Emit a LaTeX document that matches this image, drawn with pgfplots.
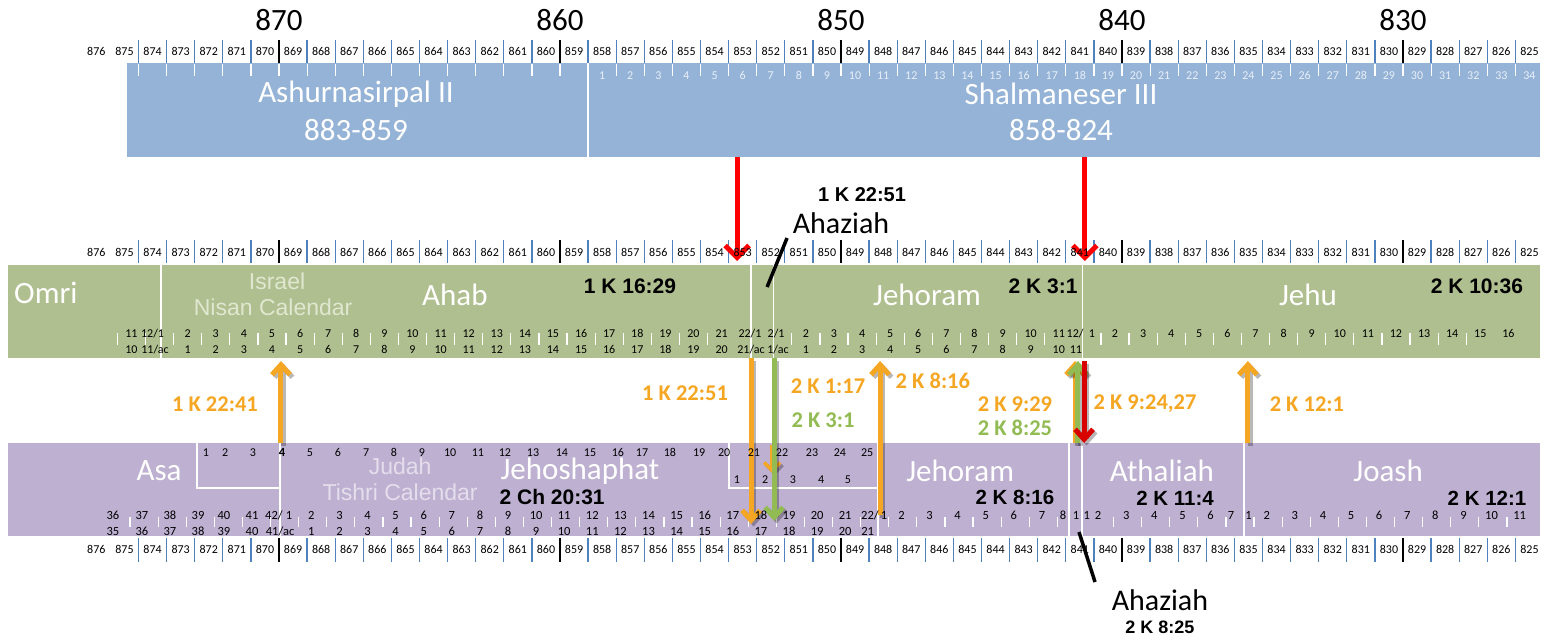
\documentclass[border=0pt]{standalone}
\usepackage{pgfplots}
\usepackage{pgfplotstable}
\pgfplotsset{compat=1.18}
\usepackage{fontspec}
\setmainfont{Carlito}
\newfontfamily\arial{Liberation Sans}
\usetikzlibrary{arrows.meta}
\newcommand\fs[1]{\fontsize{#1pt}{#1pt}\selectfont}
\definecolor{bandblue}{RGB}{149,179,215}
\definecolor{bandgreen}{RGB}{176,191,143}
\definecolor{bandpurple}{RGB}{190,176,209}
\definecolor{sepblue}{RGB}{79,129,189}
\definecolor{arrorange}{RGB}{245,166,35}
\definecolor{arrgreen}{RGB}{146,187,83}
\definecolor{lgtext}{RGB}{224,231,208}
\definecolor{lptext}{RGB}{228,222,236}
\definecolor{lbtext}{RGB}{232,239,248}
\pgfplotsset{
  lbl/.style 2 args={only marks, mark=none, nodes near coords, point meta=explicit symbolic,
    nodes near coords align={anchor=base},
    every node near coord/.append style={font=#1, text=#2, inner sep=0pt, yshift=-4pt}},
  shd/.style={preaction={draw=black, draw opacity=0.28, transform canvas={shift={(2.5pt,-2.5pt)}}}},
}
\pgfplotstableread{
x lab
876 876
875 875
874 874
873 873
872 872
871 871
870 870
869 869
868 868
867 867
866 866
865 865
864 864
863 863
862 862
861 861
860 860
859 859
858 858
857 857
856 856
855 855
854 854
853 853
852 852
851 851
850 850
849 849
848 848
847 847
846 846
845 845
844 844
843 843
842 842
841 841
840 840
839 839
838 838
837 837
836 836
835 835
834 834
833 833
832 832
831 831
830 830
829 829
828 828
827 827
826 826
825 825
}\yeartab
\begin{document}
\begin{tikzpicture}[every node/.append style={inner sep=0pt}]
\begin{axis}[
  width=1548pt, height=642pt, scale only axis,
  xmin=824.34, xmax=879.43, x dir=reverse,
  ymin=0, ymax=642, y dir=reverse,
  hide axis, clip=false,
]
% ---------- bands ----------
\addplot[fill=bandblue, draw=none] coordinates {(874.91,63) (824.625,63) (824.625,157) (874.91,157)};
\addplot[fill=bandgreen, draw=none] coordinates {(879.14,265) (824.625,265) (824.625,358) (879.14,358)};
\addplot[fill=bandpurple, draw=none] coordinates {(879.14,443) (824.625,443) (824.625,536) (879.14,536)};

% dividers
\addplot[white, line width=2pt] coordinates {(858.5,63) (858.5,157)};
\addplot[white, line width=1.5pt] coordinates {(873.7,265) (873.7,358)};
\addplot[white, line width=1.5pt] coordinates {(852.7,265) (852.7,358)};
\addplot[white, line width=1.5pt] coordinates {(851.9,265) (851.9,358)};
\addplot[white, line width=1.5pt] coordinates {(840.9,265) (840.9,358)};
\addplot[white, line width=1.5pt] coordinates {(869.46,443) (869.46,536)};
\addplot[white, line width=1.5pt] coordinates {(872.42,443) (872.42,488) (869.46,488)};
\addplot[white, line width=1.5pt] coordinates {(853.49,443) (853.49,488) (848.18,488)};
\addplot[white, line width=1.5pt] coordinates {(848.18,443) (848.18,536)};
\addplot[white, line width=1.5pt] coordinates {(841.39,443) (841.39,536)};
\addplot[white, line width=1.5pt] coordinates {(840.92,443) (840.92,536)};
\addplot[white, line width=1.5pt] coordinates {(835.16,443) (835.16,536)};

% ---------- year rows ----------
\pgfplotsinvokeforeach{825,...,874}{
  \draw[sepblue, line width=1.3pt] (axis cs:#1.5,40) -- (axis cs:#1.5,63);
  \draw[sepblue, line width=1.3pt] (axis cs:#1.5,240) -- (axis cs:#1.5,263);
  \draw[sepblue, line width=1.3pt] (axis cs:#1.5,538) -- (axis cs:#1.5,562);
}
\pgfplotsinvokeforeach{829,839,849,859,869}{
  \draw[black, line width=1.6pt] (axis cs:#1.5,40) -- (axis cs:#1.5,63);
  \draw[black, line width=1.6pt] (axis cs:#1.5,240) -- (axis cs:#1.5,263);
  \draw[black, line width=1.6pt] (axis cs:#1.5,538) -- (axis cs:#1.5,562);
}
\addplot[lbl={\fs{12}}{black}] table[x=x, y expr=51, meta=lab] {\yeartab};
\addplot[lbl={\fs{12}}{black}] table[x=x, y expr=252, meta=lab] {\yeartab};
\addplot[lbl={\fs{12}}{black}] table[x=x, y expr=549, meta=lab] {\yeartab};

% big decade labels
\node[font=\fs{31}] at (axis cs:869.5,20) {870};
\node[font=\fs{31}] at (axis cs:859.5,20) {860};
\node[font=\fs{31}] at (axis cs:849.5,20) {850};
\node[font=\fs{31}] at (axis cs:839.5,20) {840};
\node[font=\fs{31}] at (axis cs:829.5,20) {830};

% ---------- Assyria band ----------
\pgfplotsinvokeforeach{825,...,857,859,860,...,874}{
  \draw[white, line width=1.2pt] (axis cs:#1.5,64) -- (axis cs:#1.5,76);
}
\addplot[lbl={\fs{12}}{lbtext}] coordinates {
(858,75)[1] (857,75)[2] (856,75)[3] (855,75)[4] (854,75)[5] (853,75)[6] (852,75)[7] (851,75)[8] (850,75)[9] (849,75)[10]
(848,75)[11] (847,75)[12] (846,75)[13] (845,75)[14] (844,75)[15] (843,75)[16] (842,75)[17] (841,75)[18] (840,75)[19] (839,75)[20]
(838,75)[21] (837,75)[22] (836,75)[23] (835,75)[24] (834,75)[25] (833,75)[26] (832,75)[27] (831,75)[28] (830,75)[29] (829,75)[30]
(828,75)[31] (827,75)[32] (826,75)[33] (825,75)[34]};
\node[font=\fs{31}, text=white] at (axis cs:866.76,94) {Ashurnasirpal II};
\node[font=\fs{31}, text=white] at (axis cs:866.76,130) {883-859};
\node[font=\fs{31}, text=white] at (axis cs:841.67,94) {Shalmaneser III};
\node[font=\fs{31}, text=white] at (axis cs:841.67,130) {858-824};

% ---------- Israel band ----------
\pgfplotsinvokeforeach{854,...,875,842,843,...,851,827,828,...,840}{
  \draw[white, line width=1.2pt] (axis cs:#1.25,333) -- (axis cs:#1.25,345);
}
\addplot[lbl={\fs{12}}{black}] coordinates {
(874.75,333)[11] (874.0,333)[12/1] (872.75,333)[2] (871.75,333)[3] (870.75,333)[4] (869.75,333)[5] (868.75,333)[6]
(867.75,333)[7] (866.75,333)[8] (865.75,333)[9] (864.75,333)[10] (863.75,333)[11] (862.75,333)[12] (861.75,333)[13]
(860.75,333)[14] (859.75,333)[15] (858.75,333)[16] (857.75,333)[17] (856.75,333)[18] (855.75,333)[19] (854.75,333)[20]
(853.75,333)[21] (852.74,333)[22/1] (851.81,333)[2/1] (850.75,333)[2] (849.75,333)[3] (848.75,333)[4] (847.75,333)[5]
(846.75,333)[6] (845.75,333)[7] (844.75,333)[8] (843.75,333)[9] (842.75,333)[10] (841.75,333)[11] (841.17,333)[12/]
(840.57,333)[1] (839.75,333)[2] (838.75,333)[3] (837.75,333)[4] (836.75,333)[5] (835.75,333)[6] (834.75,333)[7]
(833.75,333)[8] (832.75,333)[9] (831.75,333)[10] (830.75,333)[11] (829.75,333)[12] (828.75,333)[13] (827.75,333)[14]
(826.75,333)[15] (825.75,333)[16]};
\addplot[lbl={\fs{12}}{black}] coordinates {
(874.75,349)[10] (873.91,349)[11/ac] (872.75,349)[1] (871.75,349)[2] (870.75,349)[3] (869.75,349)[4] (868.75,349)[5]
(867.75,349)[6] (866.75,349)[7] (865.75,349)[8] (864.75,349)[9] (863.75,349)[10] (862.75,349)[11] (861.75,349)[12]
(860.75,349)[13] (859.75,349)[14] (858.75,349)[15] (857.75,349)[16] (856.75,349)[17] (855.75,349)[18] (854.75,349)[19]
(853.75,349)[20] (852.70,349)[21/ac] (851.74,349)[1/ac] (850.75,349)[1] (849.75,349)[2] (848.75,349)[3] (847.75,349)[4]
(846.75,349)[5] (845.75,349)[6] (844.75,349)[7] (843.75,349)[8] (842.75,349)[9] (841.75,349)[10] (841.14,349)[11]};
\node[font=\fs{31}, text=white, anchor=west] at (axis cs:878.93,293) {Omri};
\node[font=\arial\fs{23}, text=lgtext] at (axis cs:869.57,281) {Israel};
\node[font=\arial\fs{23}, text=lgtext] at (axis cs:869.71,307) {Nisan Calendar};
\node[font=\fs{31}, text=white] at (axis cs:863.24,295) {Ahab};
\node[font=\arial\bfseries\fs{21}] at (axis cs:857.01,286) {1 K 16:29};
\node[font=\fs{31}, text=white] at (axis cs:846.44,295) {Jehoram};
\node[font=\arial\bfseries\fs{21}] at (axis cs:842.31,286) {2 K 3:1};
\node[font=\fs{31}, text=white] at (axis cs:832.88,295) {Jehu};
\node[font=\arial\bfseries\fs{21}] at (axis cs:826.87,286) {2 K 10:36};

% ---------- Judah band ----------
\pgfplotsinvokeforeach{825,...,839,841,842,...,874}{
  \draw[white, line width=1.2pt] (axis cs:#1.8,517) -- (axis cs:#1.8,527);
}
\addplot[lbl={\fs{12}}{black}] coordinates {
(872.10,452)[1] (871.42,452)[2] (870.43,452)[3] (868.40,452)[5] (867.40,452)[6] (866.40,452)[7] (865.41,452)[8]
(864.41,452)[9] (863.41,452)[10] (862.42,452)[11] (861.46,452)[12] (860.46,452)[13] (859.43,452)[14] (858.43,452)[15]
(857.44,452)[16] (856.58,452)[17] (855.59,452)[18] (854.55,452)[19] (853.66,452)[20] (852.60,452)[21] (851.60,452)[22]
(850.53,452)[23] (849.54,452)[24] (848.57,452)[25]};
\addplot[lbl={\bfseries\fs{12.5}}{black}] coordinates {(869.39,452)[4]};
\addplot[lbl={\fs{12}}{black}] coordinates {
(853.20,479)[1] (852.20,479)[2] (851.21,479)[3] (850.21,479)[4] (849.25,479)[5]};
\addplot[lbl={\fs{12.5}}{black}] coordinates {
(875.41,515)[36] (874.38,515)[37] (873.38,515)[38] (872.38,515)[39] (871.46,515)[40] (870.46,515)[41] (869.68,515)[42/]
(869.14,515)[1] (868.35,515)[2] (867.35,515)[3] (866.35,515)[4] (865.35,515)[5] (864.35,515)[6] (863.35,515)[7]
(862.35,515)[8] (861.35,515)[9] (860.35,515)[10] (859.35,515)[11] (858.35,515)[12] (857.35,515)[13] (856.35,515)[14]
(855.35,515)[15] (854.35,515)[16] (853.35,515)[17] (852.35,515)[18] (851.35,515)[19] (850.35,515)[20] (849.35,515)[21]
(848.47,515)[22/] (847.97,515)[1] (847.35,515)[2] (846.35,515)[3] (845.35,515)[4] (844.35,515)[5] (843.35,515)[6]
(842.35,515)[7] (841.60,515)[8] (841.14,515)[1] (840.75,515)[1] (840.35,515)[2] (839.35,515)[3] (838.35,515)[4]
(837.35,515)[5] (836.35,515)[6] (835.62,515)[7] (835.00,515)[1] (834.35,515)[2] (833.35,515)[3] (832.35,515)[4]
(831.35,515)[5] (830.35,515)[6] (829.35,515)[7] (828.35,515)[8] (827.35,515)[9] (826.35,515)[10] (825.35,515)[11]};
\addplot[lbl={\fs{12.5}}{black}] coordinates {
(875.41,531)[35] (874.38,531)[36] (873.38,531)[37] (872.38,531)[38] (871.46,531)[39] (870.46,531)[40] (869.46,531)[41/ac]
(868.35,531)[1] (867.35,531)[2] (866.35,531)[3] (865.35,531)[4] (864.35,531)[5] (863.35,531)[6] (862.35,531)[7]
(861.35,531)[8] (860.35,531)[9] (859.35,531)[10] (858.35,531)[11] (857.35,531)[12] (856.35,531)[13] (855.35,531)[14]
(854.35,531)[15] (853.35,531)[16] (852.35,531)[17] (851.35,531)[18] (850.35,531)[19] (849.35,531)[20] (848.55,531)[21]};
\node[font=\fs{31}, text=white] at (axis cs:873.77,471) {Asa};
\node[font=\arial\fs{23}, text=lptext] at (axis cs:865.19,466) {Judah};
\node[font=\arial\fs{23}, text=lptext] at (axis cs:865.19,492) {Tishri Calendar};
\node[font=\fs{31}, text=white] at (axis cs:858.79,471) {Jehoshaphat};
\node[font=\arial\bfseries\fs{21}] at (axis cs:859.78,497) {2 Ch 20:31};
\node[font=\fs{31}, text=white] at (axis cs:845.26,471) {Jehoram};
\node[font=\arial\bfseries\fs{20.5}] at (axis cs:843.31,497) {2 K 8:16};
\node[font=\fs{31}, text=white] at (axis cs:838.08,471) {Athaliah};
\node[font=\arial\bfseries\fs{20.5}] at (axis cs:837.61,498) {2 K 11:4};
\node[font=\fs{31}, text=white] at (axis cs:830.03,471) {Joash};
\node[font=\arial\bfseries\fs{20.5}] at (axis cs:826.51,498) {2 K 12:1};

% ---------- arrows ----------
\addplot[red, line width=5pt, -{Straight Barb[length=12pt,width=24pt]}] coordinates {(853.2,157) (853.2,261)};
\addplot[red, line width=5pt, -{Straight Barb[length=12pt,width=24pt]}] coordinates {(840.82,157) (840.82,261)};

\addplot[arrorange, line width=5pt, shd, -{Straight Barb[length=10pt,width=18pt]}] coordinates {(869.43,443) (869.43,361)};
\addplot[arrorange, line width=5pt, shd, -{Straight Barb[length=10pt,width=18pt]}] coordinates {(852.70,358) (852.70,524)};
\addplot[arrorange, line width=3.5pt, shd, -{Straight Barb[length=8pt,width=16pt]}] coordinates {(851.95,445) (851.95,473)};
\addplot[arrgreen, line width=5pt, shd, -{Straight Barb[length=10pt,width=18pt]}] coordinates {(851.88,358) (851.88,521)};
\addplot[arrorange, line width=5pt, shd, -{Straight Barb[length=10pt,width=18pt]}] coordinates {(848.11,515) (848.11,361)};
\addplot[arrorange, line width=5pt, shd, -{Straight Barb[length=10pt,width=18pt]}] coordinates {(841.17,443) (841.17,361)};
\addplot[arrgreen, line width=5pt, shd, -{Straight Barb[length=10pt,width=18pt]}] coordinates {(841.07,443) (841.07,361)};
\addplot[red!85!black, line width=5pt, shd, -{Straight Barb[length=10pt,width=18pt]}] coordinates {(840.85,361) (840.85,443)};
\addplot[arrorange, line width=5pt, shd, -{Straight Barb[length=10pt,width=18pt]}] coordinates {(835.02,443) (835.02,361)};

\node[font=\bfseries\fs{22.5}, text=arrorange] at (axis cs:871.78,404) {1 K 22:41};
\node[font=\bfseries\fs{22.5}, text=arrorange] at (axis cs:855.05,393) {1 K 22:51};
\node[font=\bfseries\fs{22.5}, text=arrorange] at (axis cs:849.96,386) {2 K 1:17};
\node[font=\bfseries\fs{22.5}, text=arrgreen] at (axis cs:850.14,420) {2 K 3:1};
\node[font=\bfseries\fs{22.5}, text=arrorange] at (axis cs:846.23,381) {2 K 8:16};
\node[font=\bfseries\fs{22.5}, text=arrorange] at (axis cs:843.31,404) {2 K 9:29};
\node[font=\bfseries\fs{22.5}, text=arrgreen] at (axis cs:843.31,428) {2 K 8:25};
\node[font=\bfseries\fs{22.5}, text=arrorange] at (axis cs:838.68,404) {2 K 9:24,27};
\node[font=\bfseries\fs{22.5}, text=arrorange] at (axis cs:832.92,404) {2 K 12:1};

% ---------- Ahaziah pointers ----------
\addplot[black, line width=3.5pt] coordinates {(851.42,238) (852.13,287)};
\addplot[black, line width=3.5pt] coordinates {(841.03,532) (840.46,582)};
\node[font=\arial\bfseries\fs{20}] at (axis cs:848.75,195) {1 K 22:51};
\node[font=\fs{30}] at (axis cs:849.5,223) {Ahaziah};
\node[font=\fs{30}] at (axis cs:838.15,600) {Ahaziah};
\node[font=\arial\bfseries\fs{18}] at (axis cs:838.15,627) {2 K 8:25};
\end{axis}
\pgfresetboundingbox
\path (current axis.south west) rectangle (current axis.north east);
\end{tikzpicture}
\end{document}
